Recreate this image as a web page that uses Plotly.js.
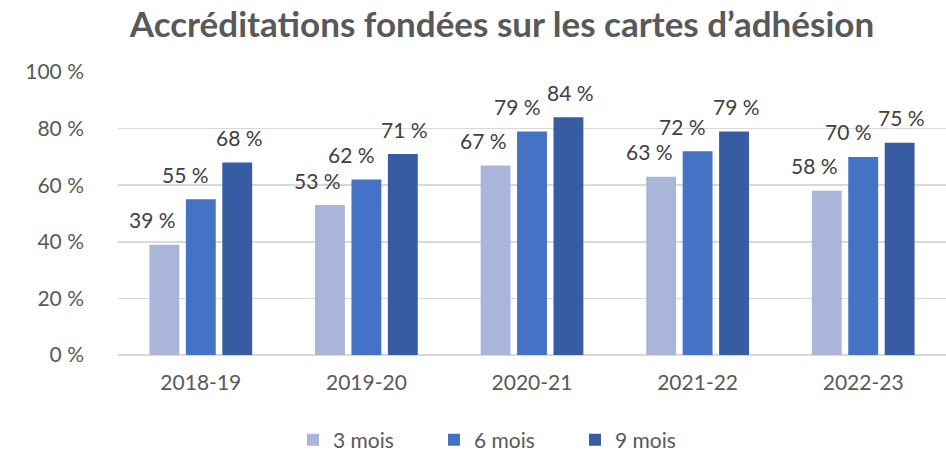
<!DOCTYPE html>
<html>
<head>
<meta charset="utf-8">
<script src="https://cdn.plot.ly/plotly-3.0.1.min.js"></script>
<style>
html,body{margin:0;padding:0;background:#fff;}
#chart{width:946px;height:452px;}
</style>
</head>
<body>
<div id="chart"></div>
<script>
const categories = ["2018-19", "2019-20", "2020-21", "2021-22", "2022-23"];
const seriesNames = ["3 mois", "6 mois", "9 mois"];
const mois3 = [39, 53, 67, 63, 58];
const mois6 = [55, 62, 79, 72, 70];
const mois9 = [68, 71, 84, 79, 75];
const yTicks = [0, 20, 40, 60, 80, 100];
const titleText = "Accréditations fondées sur les cartes d’adhésion";

const seriesValues = [mois3, mois6, mois9];
const colors = ["#A9B5D9", "#4472C4", "#375CA3"];
const labelXShift = [-12, -15, 2];

const FONT = "Lato, 'Open Sans', sans-serif";
const FS = 21;
const W = 946, H = 452;
const margin = {l: 118, r: 0, t: 72, b: 97, autoexpand: false};
const bargap = 0.34;
const plotW = W - margin.l - margin.r;
const catW = plotW / categories.length;
const slotW = catW * (1 - bargap) / seriesValues.length;

const traces = seriesValues.map((vals, i) => ({
  type: "bar",
  name: seriesNames[i],
  x: categories,
  y: vals,
  marker: {color: colors[i]},
  hoverinfo: "skip"
}));

const annotations = [];
seriesValues.forEach((vals, i) => {
  vals.forEach((v, j) => {
    annotations.push({
      x: categories[j], y: v, xref: "x", yref: "y",
      text: v + " %", showarrow: false,
      xanchor: "center", yanchor: "middle",
      xshift: (i - 1) * slotW + labelXShift[i],
      yshift: 25,
      font: {family: FONT, size: FS, color: "#404040"}
    });
  });
});

const layout = {
  width: W, height: H,
  margin: margin,
  paper_bgcolor: "#fff", plot_bgcolor: "#fff",
  font: {family: FONT, size: FS, color: "#595959"},
  title: {
    text: "<b>" + titleText + "</b>",
    font: {family: FONT, size: 35, color: "#595959"},
    xref: "container", yref: "container",
    x: 502 / W, xanchor: "center",
    y: 1 - 25 / H, yanchor: "middle"
  },
  barmode: "group",
  bargap: bargap,
  bargroupgap: 0.18,
  xaxis: {
    type: "category",
    showgrid: false, showline: false, zeroline: false,
    ticks: "", ticklabelstandoff: 13,
    tickfont: {family: FONT, size: FS, color: "#595959"},
    fixedrange: true, automargin: false
  },
  yaxis: {
    range: [0, 100],
    tickvals: yTicks,
    ticktext: yTicks.map(v => v + " %"),
    showgrid: true, gridcolor: "#D9D9D9", gridwidth: 1.5,
    zeroline: true, zerolinecolor: "#D9D9D9", zerolinewidth: 1.5,
    showline: false, ticks: "", ticklabelstandoff: 33,
    tickfont: {family: FONT, size: FS, color: "#595959"},
    fixedrange: true, automargin: false
  },
  showlegend: true,
  legend: {
    orientation: "h",
    x: 175 / plotW, xanchor: "left",
    y: -0.228, yanchor: "top",
    entrywidth: 96,
    font: {family: FONT, size: FS, color: "#595959"},
    bgcolor: "rgba(0,0,0,0)"
  },
  annotations: annotations
};

Plotly.newPlot("chart", traces, layout, {displayModeBar: false, staticPlot: true});
</script>
</body>
</html>
